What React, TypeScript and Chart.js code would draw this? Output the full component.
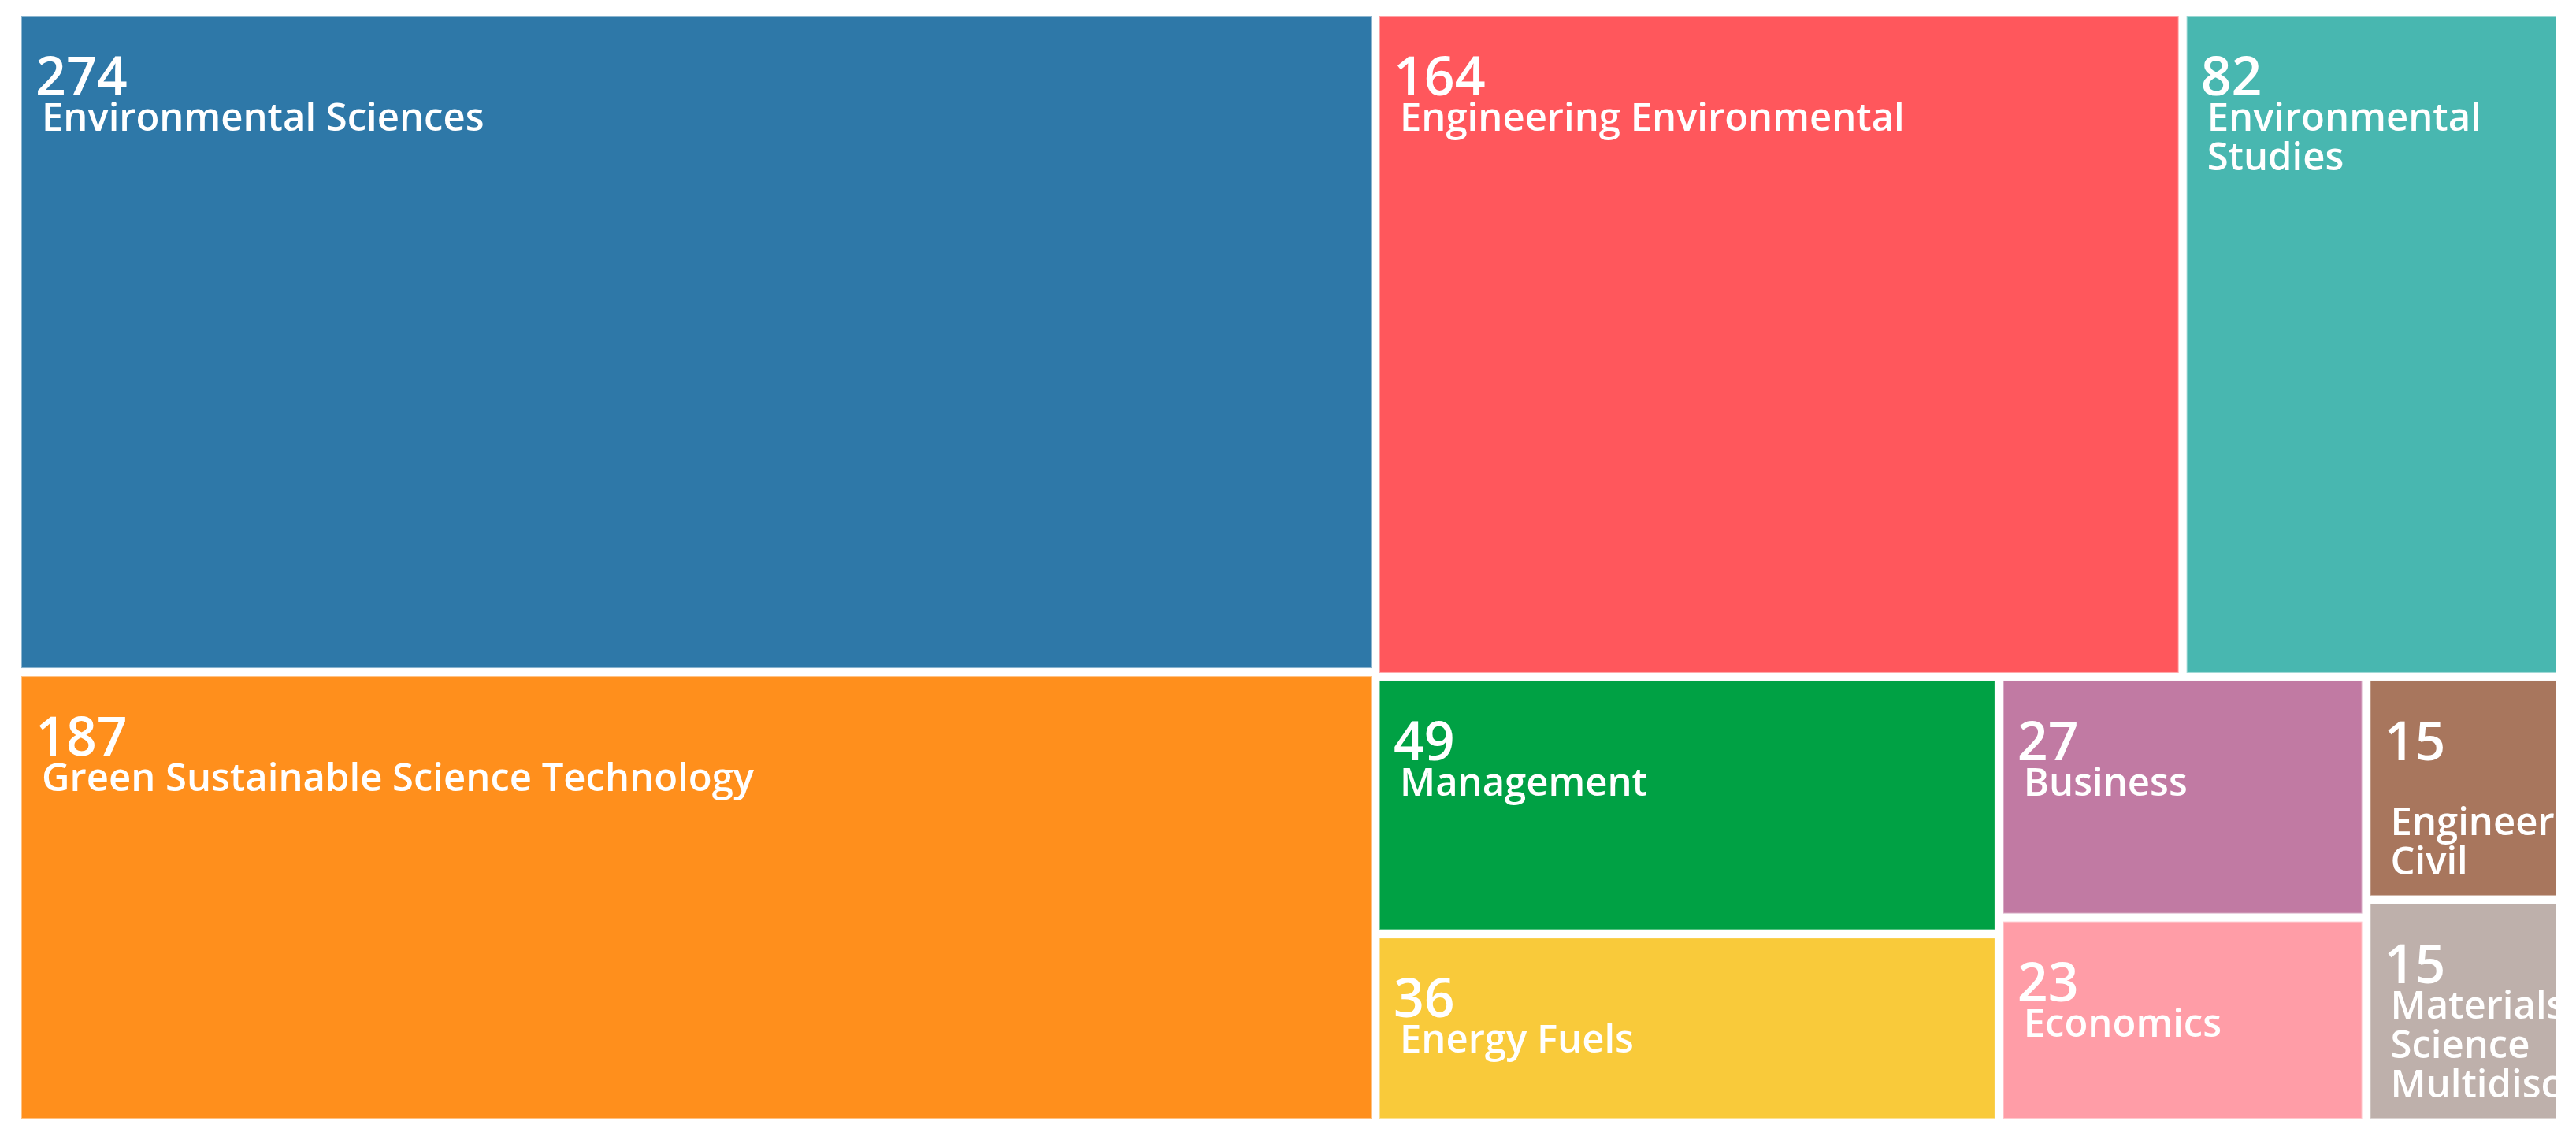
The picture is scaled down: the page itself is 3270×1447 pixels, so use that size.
import React, { useEffect, useRef } from 'react';
import { Chart, registerables } from 'chart.js';

Chart.register(...registerables);

// ---- data ----
const categories = [
  'Environmental Sciences',
  'Green Sustainable Science Technology',
  'Engineering Environmental',
  'Environmental Studies',
  'Management',
  'Energy Fuels',
  'Business',
  'Economics',
  'Engineering Civil',
  'Materials Science Multidisciplinary',
];
const counts = [274, 187, 164, 82, 49, 36, 27, 23, 15, 15];
const cellColors = [
  '#2E78A8',
  '#FF8F1C',
  '#FF575C',
  '#48B7B0',
  '#00A144',
  '#F9CA3A',
  '#C17AA3',
  '#FF9DA7',
  '#A8765D',
  '#BEB0AB',
];

// slice-and-dice structure (indices into categories); 'row' = side by side, 'col' = stacked
type TNode = { dir: 'row' | 'col'; children: (TNode | number)[] };
const layoutTree: TNode = {
  dir: 'row',
  children: [
    { dir: 'col', children: [0, 1] },
    {
      dir: 'col',
      children: [
        { dir: 'row', children: [2, 3] },
        {
          dir: 'row',
          children: [
            { dir: 'col', children: [4, 5] },
            { dir: 'col', children: [6, 7] },
            { dir: 'col', children: [8, 9] },
          ],
        },
      ],
    },
  ],
};

// visible part of the x range (the tree map is cut off at the right edge)
const X_VIEW_MAX = 0.98835;

type Rect = { i: number; x0: number; x1: number; y0: number; y1: number };

function nodeSum(n: TNode | number): number {
  if (typeof n === 'number') return counts[n];
  return n.children.reduce((s, c) => s + nodeSum(c), 0);
}

function layout(n: TNode | number, x0: number, y0: number, x1: number, y1: number, out: Rect[]) {
  if (typeof n === 'number') {
    out.push({ i: n, x0, x1, y0, y1 });
    return;
  }
  const total = nodeSum(n);
  let pos = n.dir === 'row' ? x0 : y0;
  for (const c of n.children) {
    const f = nodeSum(c) / total;
    if (n.dir === 'row') {
      const w = (x1 - x0) * f;
      layout(c, pos, y0, pos + w, y1, out);
      pos += w;
    } else {
      const h = (y1 - y0) * f;
      layout(c, x0, pos, x1, pos + h, out);
      pos += h;
    }
  }
}

function wrap(ctx: CanvasRenderingContext2D, text: string, maxW: number): string[] {
  const words = text.split(' ');
  const lines: string[] = [];
  let line = '';
  for (const w of words) {
    const test = line + w + ' ';
    if (ctx.measureText(test).width > maxW) {
      lines.push(line.trim());
      line = w + ' ';
    } else {
      line = test;
    }
  }
  lines.push(line.trim());
  return lines;
}

const GAP = 10;
const FONT_FAMILY = '"Open Sans", "Noto Sans", sans-serif';

const treemapPlugin = {
  id: 'treemapCells',
  afterDatasetsDraw(chart: any) {
    const { ctx, chartArea, scales } = chart;
    const xs = scales.x;
    const ys = scales.y;
    const rects: Rect[] = [];
    layout(layoutTree, 0, 0, 1, 1, rects);
    ctx.save();
    ctx.beginPath();
    ctx.rect(0, 0, chartArea.right, chart.height);
    ctx.clip();
    for (const r of rects) {
      const px0 = xs.getPixelForValue(r.x0) + GAP / 2;
      const px1 = xs.getPixelForValue(r.x1) - GAP / 2;
      const py0 = ys.getPixelForValue(r.y0) + GAP / 2;
      const py1 = ys.getPixelForValue(r.y1) - GAP / 2;
      const w = px1 - px0;
      const h = py1 - py0;
      ctx.fillStyle = cellColors[r.i];
      ctx.fillRect(px0, py0, w, h);
      ctx.strokeStyle = 'rgba(255,255,255,0.45)';
      ctx.lineWidth = 2;
      ctx.strokeRect(px0, py0, w, h);

      ctx.save();
      ctx.beginPath();
      ctx.rect(px0, py0, w, h);
      ctx.clip();
      ctx.fillStyle = '#ffffff';
      ctx.textBaseline = 'alphabetic';
      ctx.textAlign = 'left';
      ctx.font = `600 68px ${FONT_FAMILY}`;
      ctx.fillText(String(counts[r.i]), px0 + 18, py0 + 101);
      ctx.font = `600 49px ${FONT_FAMILY}`;
      const lines = wrap(ctx, categories[r.i], w);
      lines.forEach((ln, k) => {
        ctx.fillText(ln, px0 + 26, py0 + 146 + k * 50);
      });
      ctx.restore();
    }
    ctx.restore();
  },
};

export default function App() {
  const ref = useRef<HTMLCanvasElement | null>(null);
  useEffect(() => {
    if (!ref.current) return;
    const chart = new Chart(ref.current, {
      type: 'scatter',
      data: { datasets: [] },
      options: {
        animation: false,
        responsive: false,
        events: [],
        layout: { padding: { left: 22, top: 15, right: 25, bottom: 22 } },
        plugins: { legend: { display: false }, tooltip: { enabled: false } },
        scales: {
          x: { type: 'linear', min: 0, max: X_VIEW_MAX, display: false },
          y: { type: 'linear', min: 0, max: 1, reverse: true, display: false },
        },
      },
      plugins: [treemapPlugin],
    } as any);
    return () => chart.destroy();
  }, []);
  return (
    <div style={{ position: 'fixed', left: 0, top: 0, width: 3270, height: 1447, background: '#fff' }}>
      <canvas ref={ref} width={3270} height={1447} style={{ display: 'block' }} />
    </div>
  );
}
